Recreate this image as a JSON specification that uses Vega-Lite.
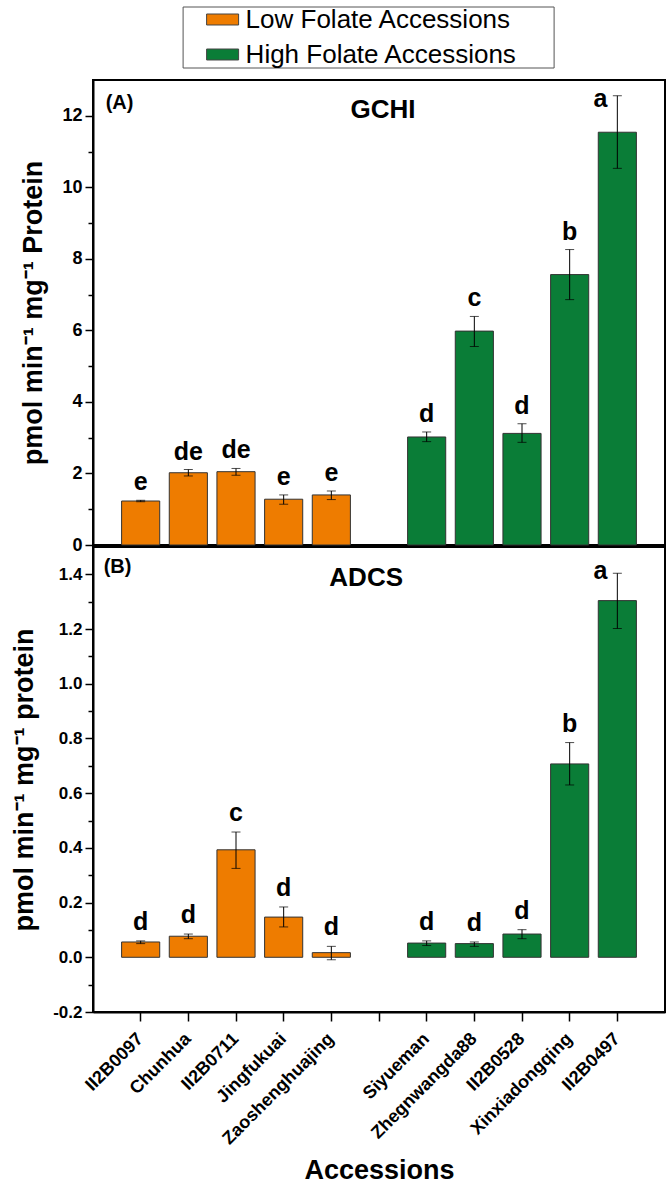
{
  "$schema": "https://vega.github.io/schema/vega-lite/v6.json",
  "padding": {"left": 9, "top": 5, "right": 0, "bottom": 0},
  "spacing": 2,
  "bounds": "flush",
  "config": {
    "font": "Liberation Sans",
    "locale": {"number": {"decimal": ".", "thousands": ",", "grouping": [3], "currency": ["$", ""], "minus": "-"}},
    "view": {"stroke": "black", "strokeWidth": 2},
    "axis": {"labelFont": "Liberation Sans", "titleFont": "Liberation Sans", "labelColor": "black", "titleColor": "black", "domainColor": "black", "tickColor": "black", "grid": false, "labelFontWeight": "bold", "titleFontWeight": "bold"}
  },
  "datasets": {
    "gchi": [
      {"name": "II2B0097", "group": "Low Folate Accessions", "mean": 1.23, "lo": 1.21, "hi": 1.25, "letter": "e"},
      {"name": "Chunhua", "group": "Low Folate Accessions", "mean": 2.02, "lo": 1.93, "hi": 2.11, "letter": "de"},
      {"name": "II2B0711", "group": "Low Folate Accessions", "mean": 2.05, "lo": 1.95, "hi": 2.14, "letter": "de"},
      {"name": "Jingfukuai", "group": "Low Folate Accessions", "mean": 1.28, "lo": 1.14, "hi": 1.40, "letter": "e"},
      {"name": "Zaoshenghuajing", "group": "Low Folate Accessions", "mean": 1.40, "lo": 1.27, "hi": 1.51, "letter": "e"},
      {"name": "Siyueman", "group": "High Folate Accessions", "mean": 3.02, "lo": 2.89, "hi": 3.16, "letter": "d"},
      {"name": "Zhegnwangda88", "group": "High Folate Accessions", "mean": 5.98, "lo": 5.55, "hi": 6.39, "letter": "c"},
      {"name": "II2B0528", "group": "High Folate Accessions", "mean": 3.12, "lo": 2.87, "hi": 3.39, "letter": "d"},
      {"name": "Xinxiadongqing", "group": "High Folate Accessions", "mean": 7.56, "lo": 6.86, "hi": 8.26, "letter": "b"},
      {"name": "II2B0497", "group": "High Folate Accessions", "mean": 11.54, "lo": 10.53, "hi": 12.56, "letter": "a"}
    ],
    "adcs": [
      {"name": "II2B0097", "group": "Low Folate Accessions", "mean": 0.056, "lo": 0.050, "hi": 0.060, "letter": "d"},
      {"name": "Chunhua", "group": "Low Folate Accessions", "mean": 0.077, "lo": 0.068, "hi": 0.085, "letter": "d"},
      {"name": "II2B0711", "group": "Low Folate Accessions", "mean": 0.393, "lo": 0.325, "hi": 0.458, "letter": "c"},
      {"name": "Jingfukuai", "group": "Low Folate Accessions", "mean": 0.147, "lo": 0.111, "hi": 0.184, "letter": "d"},
      {"name": "Zaoshenghuajing", "group": "Low Folate Accessions", "mean": 0.017, "lo": -0.009, "hi": 0.040, "letter": "d"},
      {"name": "Siyueman", "group": "High Folate Accessions", "mean": 0.052, "lo": 0.043, "hi": 0.060, "letter": "d"},
      {"name": "Zhegnwangda88", "group": "High Folate Accessions", "mean": 0.050, "lo": 0.040, "hi": 0.056, "letter": "d"},
      {"name": "II2B0528", "group": "High Folate Accessions", "mean": 0.085, "lo": 0.068, "hi": 0.101, "letter": "d"},
      {"name": "Xinxiadongqing", "group": "High Folate Accessions", "mean": 0.707, "lo": 0.630, "hi": 0.785, "letter": "b"},
      {"name": "II2B0497", "group": "High Folate Accessions", "mean": 1.304, "lo": 1.202, "hi": 1.404, "letter": "a"}
    ]
  },
  "resolve": {"scale": {"color": "independent", "y": "independent", "x": "independent"}, "legend": {"color": "independent"}},
  "vconcat": [
    {
      "width": 572,
      "height": 465,
      "data": {"name": "gchi"},
      "encoding": {
        "x": {"field": "name", "type": "nominal", "sort": null,
          "scale": {"domain": ["II2B0097", "Chunhua", "II2B0711", "Jingfukuai", "Zaoshenghuajing", " ", "Siyueman", "Zhegnwangda88", "II2B0528", "Xinxiadongqing", "II2B0497"], "paddingInner": 0.2, "paddingOuter": 0.6},
          "axis": null}
      },
      "layer": [
        {
          "mark": {"type": "bar", "stroke": "#333333", "strokeWidth": 1},
          "encoding": {
            "y": {"field": "mean", "type": "quantitative", "scale": {"domain": [0, 13], "nice": false, "zero": false},
              "axis": {"orient": "left", "values": [0, 2, 4, 6, 8, 10, 12], "format": "d", "title": "pmol min⁻¹ mg⁻¹ Protein", "titleFontSize": 27, "labelFontSize": 18, "tickSize": 8, "tickWidth": 1.5, "domainWidth": 2, "labelPadding": 3, "titlePadding": 14}},
            "color": {"field": "group", "type": "nominal",
              "scale": {"domain": ["Low Folate Accessions", "High Folate Accessions"], "range": ["#EE7C00", "#0A7D37"]},
              "legend": {"orient": "none", "legendX": 89.6, "legendY": -73.5, "title": null, "symbolType": "M-1.333,-0.458H1.333V0.458H-1.333Z", "symbolSize": 576, "symbolStrokeColor": "#444444", "symbolStrokeWidth": 1, "symbolOpacity": 1, "labelFontSize": 26, "labelFont": "Liberation Sans", "labelColor": "black", "labelLimit": 500, "strokeColor": "#555555", "fillColor": "white", "padding": 0, "rowPadding": 9, "symbolOffset": 27, "labelOffset": 10, "labelExpr": "datum.label + '\u00a0\u00a0\u00a0\u00a0\u00a0\u200b'"}}
          }
        },
        {
          "mark": {"type": "errorbar", "ticks": {"size": 9, "color": "black", "thickness": 1}, "rule": {"color": "black", "strokeWidth": 1}},
          "encoding": {
            "y": {"field": "lo", "type": "quantitative",
              "axis": {"orient": "left", "values": [1, 3, 5, 7, 9, 11], "labels": false, "title": null, "domain": false, "tickSize": 5, "tickWidth": 1.5}},
            "y2": {"field": "hi"}
          }
        },
        {
          "transform": [{"filter": "datum.letter != 'a'"}],
          "mark": {"type": "text", "fontSize": 25, "fontWeight": "bold", "baseline": "alphabetic", "dy": -10, "color": "black"},
          "encoding": {"y": {"field": "hi", "type": "quantitative", "axis": null}, "text": {"field": "letter"}}
        },
        {
          "transform": [{"filter": "datum.letter == 'a'"}],
          "mark": {"type": "text", "fontSize": 25, "fontWeight": "bold", "baseline": "alphabetic", "dx": -17, "dy": 11, "color": "black"},
          "encoding": {"y": {"field": "hi", "type": "quantitative", "axis": null}, "text": {"field": "letter"}}
        },
        {
          "data": {"values": [{"enzyme": "GCHI"}]},
          "mark": {"type": "text", "fontSize": 26, "fontWeight": "bold", "baseline": "middle", "align": "center", "color": "black", "dx": 4},
          "encoding": {"x": {"datum": " "}, "y": {"datum": 12.17, "axis": null}, "text": {"field": "enzyme"}}
        },
        {
          "data": {"values": [{"panel": "(A)"}]},
          "mark": {"type": "text", "fontSize": 20, "fontWeight": "bold", "baseline": "alphabetic", "align": "left", "color": "black", "dx": -35},
          "encoding": {"x": {"datum": "II2B0097"}, "y": {"datum": 12.18, "axis": null}, "text": {"field": "panel"}}
        }
      ],
      "resolve": {"axis": {"y": "independent"}}
    },
    {
      "width": 572,
      "height": 465,
      "data": {"name": "adcs"},
      "encoding": {
        "x": {"field": "name", "type": "nominal", "sort": null,
          "scale": {"domain": ["II2B0097", "Chunhua", "II2B0711", "Jingfukuai", "Zaoshenghuajing", " ", "Siyueman", "Zhegnwangda88", "II2B0528", "Xinxiadongqing", "II2B0497"], "paddingInner": 0.2, "paddingOuter": 0.6},
          "axis": {"labelAngle": -45, "labelFontSize": 18, "labelBaseline": "middle", "title": "Accessions", "titleFontSize": 27, "tickSize": 9, "tickWidth": 1.5, "domainWidth": 2, "labelPadding": 15, "titlePadding": 10}}
      },
      "layer": [
        {
          "mark": {"type": "bar", "stroke": "#333333", "strokeWidth": 1},
          "encoding": {
            "y": {"field": "mean", "type": "quantitative", "scale": {"domain": [-0.2, 1.5], "nice": false, "zero": false},
              "axis": {"orient": "left", "values": [-0.2, 0, 0.2, 0.4, 0.6, 0.8, 1.0, 1.2, 1.4], "format": ".1f", "title": "pmol min⁻¹ mg⁻¹ protein", "titleFontSize": 27, "labelFontSize": 17, "tickSize": 8, "tickWidth": 1.5, "domainWidth": 2, "labelPadding": 3, "titlePadding": 14}},
            "color": {"field": "group", "type": "nominal",
              "scale": {"domain": ["Low Folate Accessions", "High Folate Accessions"], "range": ["#EE7C00", "#0A7D37"]},
              "legend": null}
          }
        },
        {
          "mark": {"type": "errorbar", "ticks": {"size": 9, "color": "black", "thickness": 1}, "rule": {"color": "black", "strokeWidth": 1}},
          "encoding": {
            "y": {"field": "lo", "type": "quantitative",
              "axis": {"orient": "left", "values": [-0.1, 0.1, 0.3, 0.5, 0.7, 0.9, 1.1, 1.3], "labels": false, "title": null, "domain": false, "tickSize": 5, "tickWidth": 1.5}},
            "y2": {"field": "hi"}
          }
        },
        {
          "transform": [{"filter": "datum.letter != 'a'"}],
          "mark": {"type": "text", "fontSize": 25, "fontWeight": "bold", "baseline": "alphabetic", "dy": -11, "color": "black"},
          "encoding": {"y": {"field": "hi", "type": "quantitative", "axis": null}, "text": {"field": "letter"}}
        },
        {
          "transform": [{"filter": "datum.letter == 'a'"}],
          "mark": {"type": "text", "fontSize": 25, "fontWeight": "bold", "baseline": "alphabetic", "dx": -17, "dy": 6, "color": "black"},
          "encoding": {"y": {"field": "hi", "type": "quantitative", "axis": null}, "text": {"field": "letter"}}
        },
        {
          "data": {"values": [{"enzyme": "ADCS"}]},
          "mark": {"type": "text", "fontSize": 26, "fontWeight": "bold", "baseline": "middle", "align": "left", "color": "black", "dx": -2},
          "encoding": {"x": {"datum": "Zaoshenghuajing"}, "y": {"datum": 1.388, "axis": null}, "text": {"field": "enzyme"}}
        },
        {
          "data": {"values": [{"panel": "(B)"}]},
          "mark": {"type": "text", "fontSize": 20, "fontWeight": "bold", "baseline": "alphabetic", "align": "left", "color": "black", "dx": -37},
          "encoding": {"x": {"datum": "II2B0097"}, "y": {"datum": 1.405, "axis": null}, "text": {"field": "panel"}}
        }
      ],
      "resolve": {"axis": {"y": "independent"}}
    }
  ]
}
